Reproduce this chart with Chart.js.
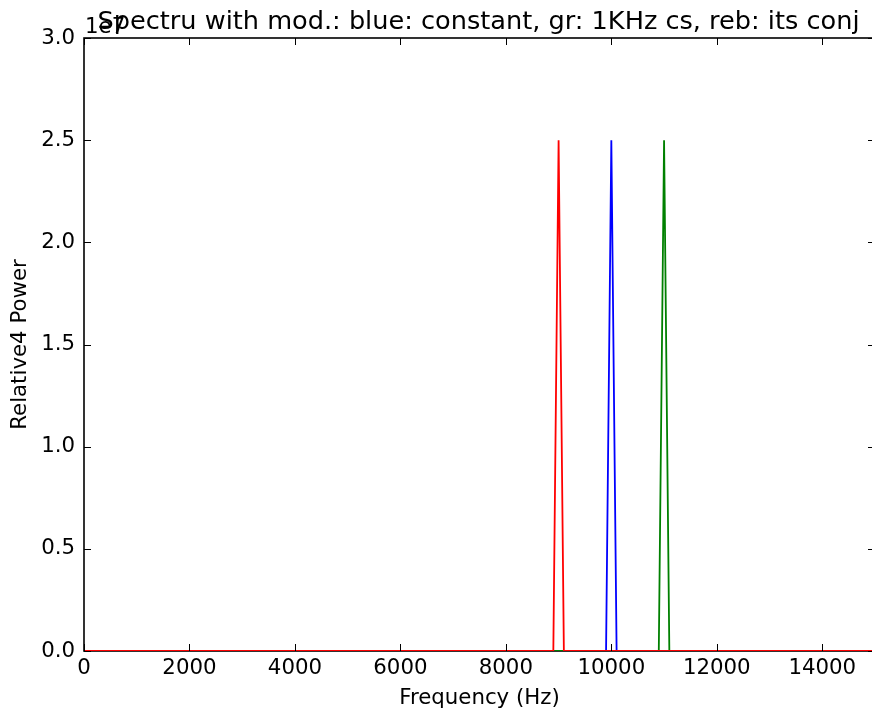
<!DOCTYPE html>
<html>
<head>
<meta charset="utf-8">
<script src="https://cdn.jsdelivr.net/npm/chart.js@4"></script>
<style>
  html, body { margin: 0; padding: 0; background: #fff; overflow: hidden; width: 872px; height: 713px; }
  #wrap { position: absolute; left: 0; top: 0; width: 900px; height: 713px; }
</style>
</head>
<body>
<div id="wrap"><canvas id="c" width="900" height="713"></canvas></div>
<script>
// ---- data ----
const titleText = 'Spectru with mod.: blue: constant, gr: 1KHz cs, reb: its conj';
const xLabelText = 'Frequency (Hz)';
const yLabelText = 'Relative4 Power';
const offsetText = '1e7';

const xTickValues = [0, 2000, 4000, 6000, 8000, 10000, 12000, 14000];
const xTickLabels = ['0', '2000', '4000', '6000', '8000', '10000', '12000', '14000'];
const yTickValues = [0, 5e6, 1e7, 1.5e7, 2e7, 2.5e7, 3e7];
const yTickLabels = ['0.0', '0.5', '1.0', '1.5', '2.0', '2.5', '3.0'];

const blueFreq  = [0, 9900, 10000, 10100, 15000];
const bluePower = [0, 0, 2.5e7, 0, 0];
const greenFreq  = [0, 10900, 11000, 11100, 15000];
const greenPower = [0, 0, 2.5e7, 0, 0];
const redFreq  = [0, 8900, 9000, 9100, 15000];
const redPower = [0, 0, 2.5e7, 0, 0];

const toPoints = (xs, ys) => xs.map((x, i) => ({x: x, y: ys[i]}));

const FONT = "'DejaVu Sans', sans-serif";
const TICK_SIZE = 21.3;
const TITLE_SIZE = 25.6;

const framePlugin = {
  id: 'frame',
  beforeDatasetsDraw(chart) {
    const {ctx, chartArea: a} = chart;
    ctx.save();
    ctx.strokeStyle = '#000';
    ctx.lineWidth = 1.6;
    ctx.strokeRect(a.left, a.top, a.right - a.left, a.bottom - a.top);
    ctx.restore();
  },
  afterDatasetsDraw(chart) {
    const {ctx, chartArea: a, scales} = chart;
    const L = 7;
    ctx.save();
    ctx.strokeStyle = '#000';
    ctx.lineWidth = 1;
    ctx.beginPath();
    xTickValues.forEach(v => {
      const px = Math.round(scales.x.getPixelForValue(v)) + 0.5;
      ctx.moveTo(px, a.bottom); ctx.lineTo(px, a.bottom - L);
      ctx.moveTo(px, a.top); ctx.lineTo(px, a.top + L);
    });
    yTickValues.forEach(v => {
      const py = Math.round(scales.y.getPixelForValue(v)) + 0.5;
      ctx.moveTo(a.left, py); ctx.lineTo(a.left + L, py);
      ctx.moveTo(a.right, py); ctx.lineTo(a.right - L, py);
    });
    ctx.stroke();
    ctx.restore();
  },
  afterDraw(chart) {
    const {ctx, chartArea: a} = chart;
    ctx.save();
    ctx.fillStyle = '#000';
    ctx.textBaseline = 'alphabetic';
    ctx.font = TICK_SIZE + 'px ' + FONT;
    ctx.textAlign = 'left';
    ctx.fillText(offsetText, a.left + 1, 33);
    ctx.font = TITLE_SIZE + 'px ' + FONT;
    ctx.textAlign = 'center';
    ctx.fillText(titleText, (a.left + a.right) / 2 - 1, 29);
    ctx.restore();
  }
};

new Chart(document.getElementById('c'), {
  type: 'scatter',
  data: {
    datasets: [
      {label: 'blue', data: toPoints(blueFreq, bluePower), borderColor: '#0000ff', order: 3},
      {label: 'green', data: toPoints(greenFreq, greenPower), borderColor: '#008000', order: 2},
      {label: 'red', data: toPoints(redFreq, redPower), borderColor: '#ff0000', order: 1}
    ].map(d => Object.assign(d, {showLine: true, borderWidth: 1.8, pointRadius: 0, pointHoverRadius: 0, fill: false, tension: 0}))
  },
  options: {
    responsive: false,
    animation: false,
    devicePixelRatio: 1,
    layout: {padding: {top: 38, right: 25, left: 0, bottom: 0}},
    plugins: {legend: {display: false}, tooltip: {enabled: false}, title: {display: false}},
    scales: {
      x: {
        type: 'linear', min: 0, max: 15000,
        grid: {display: false, drawTicks: false},
        border: {display: false},
        afterBuildTicks: s => { s.ticks = xTickValues.map(v => ({value: v})); },
        afterFit: s => { s.height = 62; },
        ticks: {
          padding: 5, maxRotation: 0, autoSkip: false,
          color: '#000', font: {family: FONT, size: TICK_SIZE},
          callback: v => xTickLabels[xTickValues.indexOf(v)]
        },
        title: {display: true, text: xLabelText, color: '#000', font: {family: FONT, size: TICK_SIZE}, padding: {top: 0, bottom: 2}}
      },
      y: {
        type: 'linear', min: 0, max: 3e7,
        grid: {display: false, drawTicks: false},
        border: {display: false},
        afterBuildTicks: s => { s.ticks = yTickValues.map(v => ({value: v})); },
        afterFit: s => { s.width = 84; },
        ticks: {
          padding: 9, autoSkip: false,
          color: '#000', font: {family: FONT, size: TICK_SIZE},
          callback: v => yTickLabels[yTickValues.indexOf(v)]
        },
        title: {display: true, text: yLabelText, color: '#000', font: {family: FONT, size: TICK_SIZE}, padding: {top: 8, bottom: 0}}
      }
    }
  },
  plugins: [framePlugin]
});
</script>
</body>
</html>
